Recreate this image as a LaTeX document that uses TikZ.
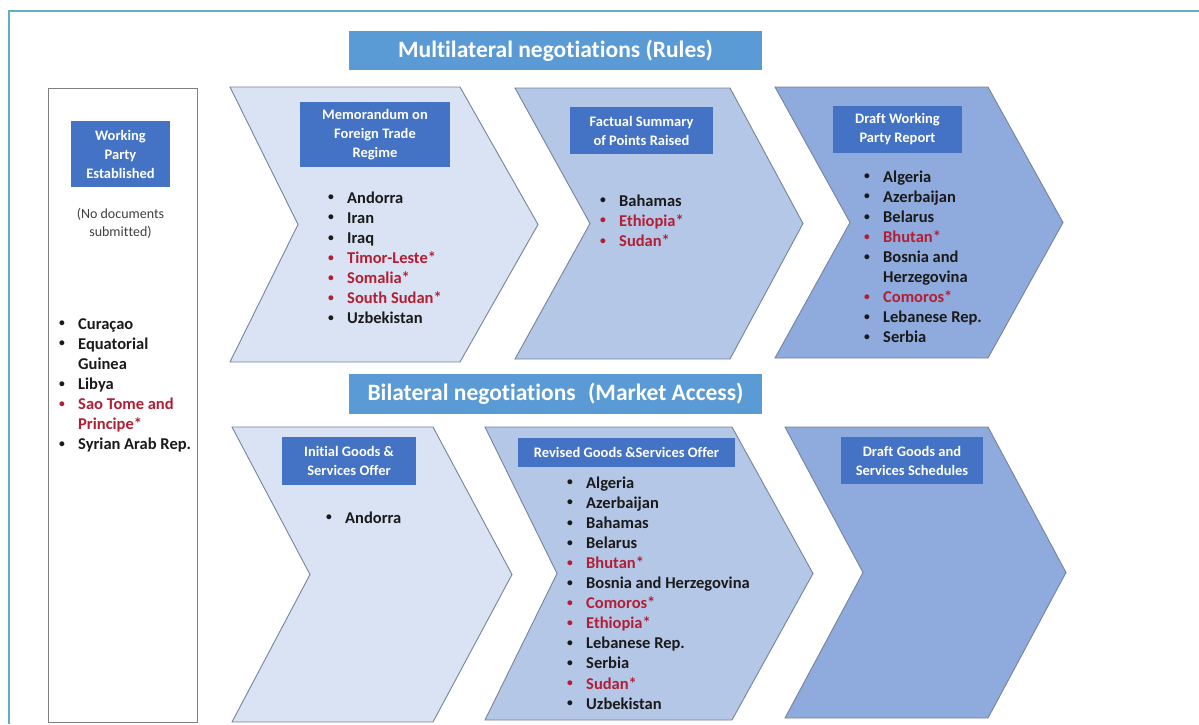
\documentclass[tikz,border=0pt]{standalone}
\usepackage{fontspec}
\setmainfont{Carlito}[Ligatures={NoCommon,NoRare,NoContextual}]
\definecolor{colA}{HTML}{DAE3F3}
\definecolor{colB}{HTML}{B4C7E7}
\definecolor{colC}{HTML}{8FAADC}
\definecolor{chevline}{HTML}{76839A}
\definecolor{lblblue}{HTML}{4472C4}
\definecolor{hdrblue}{HTML}{5B9BD5}
\definecolor{r}{HTML}{B21F35}
\definecolor{k}{HTML}{1A1A1A}
\definecolor{framecol}{HTML}{5FB0C0}
\definecolor{notecol}{HTML}{404040}
\newcommand\chev[7]{%
  \filldraw[chevron, fill=#1] (#2,#3) -- (#4,#3) -- (#5,{(#3+#6)/2}) -- (#4,#6) -- (#2,#6) -- (#7,{(#3+#6)/2}) -- cycle;}
\newcommand\smallbullet{\raisebox{0.13em}{\scalebox{0.7}{\textbullet}}}
\newcommand\tI{t\kern0pt i}
\newcommand\clist[4]{%
  \foreach[count=\i] \xc/\xb/\xt in {#4}{%
    \node[lst, text=\xc] (#1\i) at (#2,{#3+20.1*(\i-1)}) {\ifnum\xb=1 \makebox[19pt][l]{\smallbullet}\else\hspace*{19pt}\fi\xt};}}
\begin{document}
\begin{tikzpicture}[x=1pt,y=-1pt,
  chevron/.style={draw=chevline, line width=0.9pt, line join=miter},
  lbl/.style={fill=lblblue, text=white, font=\bfseries\fontsize{14.5}{19}\selectfont, align=center, inner sep=0},
  hdr/.style={fill=hdrblue, text=white, font=\bfseries\fontsize{23.5}{28}\selectfont, inner sep=0},
  lst/.style={anchor=base west, inner sep=0, font=\bfseries\fontsize{16.5}{20}\selectfont},
  leftbox/.style={draw=gray, line width=1pt, inner sep=0},
  framebox/.style={draw=framecol, line width=2pt}]
\useasboundingbox (0,0) rectangle (1199,724);
\fill[white] (0,0) rectangle (1199,724);
\draw[framebox] (9,724) -- (9,11) -- (1199,11);

% chevrons
\chev{colA}{230}{87}{460}{538}{362}{298}
\chev{colB}{515}{88}{730}{803}{359}{590}
\chev{colC}{775}{87}{988}{1063}{358}{850}
\chev{colA}{232}{427}{433}{512}{722}{310}
\chev{colB}{485}{427}{732}{813}{720}{557}
\chev{colC}{785}{427}{988}{1066}{718}{863}

% headers
\node[hdr, minimum width=413, minimum height=39] (h1) at (555.5,50.5) {Multilateral nego\tI a\tI ons (Rules)};
\node[hdr, minimum width=413, minimum height=40] (h2) at (555.5,394) {Bilateral nego\tI a\tI ons\hspace{0.3em} (Market Access)};

% left box
\node[leftbox, minimum width=149, minimum height=634] (lb) at (122.5,405) {};
\node[lbl, minimum width=99, minimum height=66] (wp) at (120.5,154) {Working\\Party\\Established};
\node[align=center, inner sep=0, text=notecol, font=\fontsize{14}{18}\selectfont] (nodoc) at (120.5,223) {(No documents\\submit\kern0pt ted)};
\clist{lbl-}{59}{329}{k/1/Curaçao, k/1/Equatorial, k/0/Guinea, k/1/Libya, r/1/Sao Tome and, r/0/Principe*, k/1/Syrian Arab Rep.}

% label boxes
\node[lbl, minimum width=150, minimum height=65] (memo) at (375,134.5) {Memorandum on\\Foreign Trade\\Regime};
\node[lbl, minimum width=143, minimum height=47] (fact) at (641.5,130.5) {Factual Summary\\of Points Raised};
\node[lbl, minimum width=129, minimum height=47] (dwpr) at (897.5,129.5) {Draft Working\\Party Report};
\node[lbl, minimum width=134, minimum height=48] (init) at (349,461) {Ini\tI al Goods \&\\Services Offer};
\node[lbl, minimum width=217, minimum height=29] (rev) at (626.5,452.5) {Revised Goods \&Services Offer};
\node[lbl, minimum width=142, minimum height=47] (dgs) at (912,460.5) {Draft Goods and\\Services Schedules};

% lists
\clist{c1-}{328}{203}{k/1/Andorra, k/1/Iran, k/1/Iraq, r/1/Timor-Leste*, r/1/Somalia*, r/1/South Sudan*, k/1/Uzbekistan}
\clist{c2-}{600}{206}{k/1/Bahamas, r/1/Ethiopia*, r/1/Sudan*}
\clist{c3-}{864}{182}{k/1/Algeria, k/1/Azerbaijan, k/1/Belarus, r/1/Bhutan*, k/1/Bosnia and, k/0/Herzegovina, r/1/Comoros*, k/1/Lebanese Rep., k/1/Serbia}
\clist{c4-}{326}{523}{k/1/Andorra}
\clist{c5-}{567}{488}{k/1/Algeria, k/1/Azerbaijan, k/1/Bahamas, k/1/Belarus, r/1/Bhutan*, k/1/Bosnia and Herzegovina, r/1/Comoros*, r/1/Ethiopia*, k/1/Lebanese Rep., k/1/Serbia, r/1/Sudan*, k/1/Uzbekistan}
\end{tikzpicture}
\end{document}
